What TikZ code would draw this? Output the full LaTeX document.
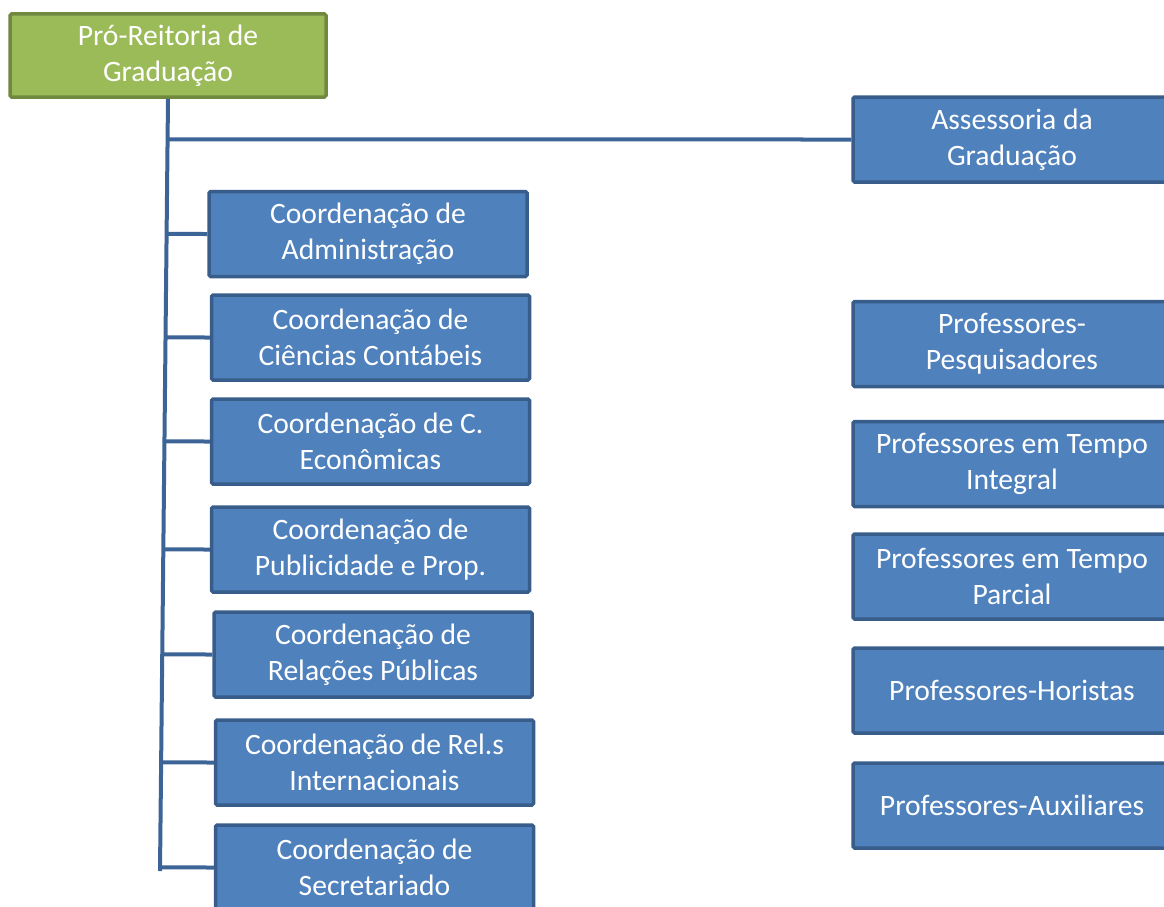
\documentclass[tikz,border=0pt]{standalone}
\usepackage{fontspec}
\setmainfont{Carlito}
\definecolor{bfill}{HTML}{4F81BD}
\definecolor{bdraw}{HTML}{385D8A}
\definecolor{gfill}{HTML}{9BBB59}
\definecolor{gdraw}{HTML}{71893F}
\definecolor{lcol}{HTML}{3C6496}
\tikzset{
  box/.style={draw=bdraw, fill=bfill, line width=3.5pt, rounded corners=1.5pt,
    minimum width=318pt, minimum height=85pt, text=white, align=center,
    font=\fontsize{29.6}{36}\selectfont, inner sep=0pt},
  gbox/.style={box, draw=gdraw, fill=gfill, minimum width=316pt, minimum height=83pt},
  conn/.style={draw=lcol, line width=4pt},
}
\begin{document}
\begin{tikzpicture}[x=1pt,y=-1pt]
\useasboundingbox (0,0) rectangle (1164,907);
\clip (0,0) rectangle (1164,907);
\node[gbox] (pro) at (168,55.5) {Pró-Reitoria de\\Graduação};
\node[box] (ass) at (1012,139.5) {Assessoria da\\Graduação};
\node[box] (adm) at (368,234) {Coordenação de\\Administração};
\node[box] (cic) at (370.5,337.5) {Coordenação de\\Ciências Contábeis};
\node[box] (eco) at (370.5,441.5) {Coordenação de C.\\Econômicas};
\node[box] (pub) at (370.5,549.5) {Coordenação de\\Publicidade e Prop.};
\node[box] (rel) at (373,654.5) {Coordenação de\\Relações Públicas};
\node[box] (int) at (374.5,762.5) {Coordenação de Rel.s\\Internacionais};
\node[box] (sec) at (374.5,867.5) {Coordenação de\\Secretariado};
\node[box] (pes) at (1012,344) {Professores-\\Pesquisadores};
\node[box] (tin) at (1012,464) {Professores em Tempo\\Integral};
\node[box] (tpa) at (1012,576.5) {Professores em Tempo\\Parcial};
\node[box] (hor) at (1012,690.5) {Professores-Horistas};
\node[box] (aux) at (1012,805.5) {Professores-Auxiliares};
\coordinate (tb) at (160,871);
\draw[conn] (pro.south) -- (tb);
\draw[conn] (intersection of pro.south--tb and ass.west--ass.east) -- (ass.west);
\foreach \n in {adm,cic,eco,pub,rel,int,sec}{
  \draw[conn] (intersection of pro.south--tb and \n.west--\n.east) -- (\n.west);
}
\end{tikzpicture}
\end{document}
